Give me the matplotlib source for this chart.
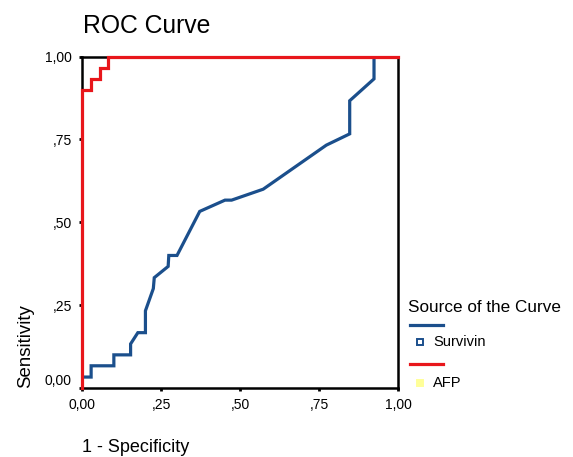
import numpy as np
import matplotlib.pyplot as plt
import matplotlib.transforms as mtransforms
from matplotlib.lines import Line2D

plt.rcParams['font.family'] = ['Liberation Sans', 'DejaVu Sans']

# ROC points (1 - specificity, sensitivity)
survivin_fpr = [0, 0, 0.028, 0.028, 0.1, 0.1, 0.153, 0.153, 0.176, 0.2, 0.2, 0.225,
                0.228, 0.272, 0.274, 0.3, 0.372, 0.452, 0.473, 0.573, 0.773, 0.847,
                0.847, 0.924, 0.924, 1.0]
survivin_tpr = [0, 0.033, 0.033, 0.067, 0.067, 0.1, 0.1, 0.133, 0.167, 0.167, 0.233, 0.3,
                0.333, 0.367, 0.4, 0.4, 0.533, 0.567, 0.567, 0.6, 0.733, 0.767,
                0.867, 0.933, 1.0, 1.0]
afp_fpr = [0, 0, 0.028, 0.028, 0.056, 0.056, 0.083, 0.083, 1.0]
afp_tpr = [0, 0.9, 0.9, 0.933, 0.933, 0.967, 0.967, 1.0, 1.0]

ticks = [0, 0.25, 0.5, 0.75, 1.0]
tick_labels = ['0,00', ',25', ',50', ',75', '1,00']
series_names = ['Survivin', 'AFP']

blue = '#1b4f8c'
red = '#e8161b'

fig = plt.figure(figsize=(5.73, 4.57), dpi=100)
ax = fig.add_axes([0.1436, 0.151, 0.551, 0.725])

ax.plot(survivin_fpr, survivin_tpr, color=blue, lw=2.3, solid_joinstyle='miter', zorder=3)
ax.plot(afp_fpr, afp_tpr, color=red, lw=2.3, solid_joinstyle='miter', zorder=4,
        clip_on=False)

ax.set_xlim(0, 1)
ax.set_ylim(0, 1)
for s in ax.spines.values():
    s.set_linewidth(1.8)
    s.set_color('black')
ax.set_xticks(ticks)
ax.set_xticklabels(tick_labels, fontsize=10)
ax.set_yticks(ticks)
ax.set_yticklabels(tick_labels, fontsize=10)
ax.tick_params(direction='out', length=2.5, width=2, pad=5, colors='black')

# SPSS puts the lowest y label a little above the axis
lab0 = ax.get_yticklabels()[0]
lab0.set_transform(lab0.get_transform() +
                   mtransforms.ScaledTranslation(0, 6 / 72, fig.dpi_scale_trans))

fig.text(0.1445, 0.928, 'ROC Curve', fontsize=17.8, ha='left', va='baseline')
fig.text(0.1425, 1 - 452 / 457, '1 - Specificity', fontsize=13, ha='left', va='baseline')
fig.text(0.030, 0.151, 'Sensitivity', fontsize=13.4, rotation=90, ha='left', va='bottom')

# legend, SPSS style
fig.text(408 / 573, 1 - 311.5 / 457, 'Source of the Curve', fontsize=12.3,
         ha='left', va='baseline')
entries = [(series_names[0], blue, blue, 'white', 325, 341.5),
           (series_names[1], red, '#ffff99', '#ffff99', 364, 383)]
for name, lc, mec, mfc, ly, my in entries:
    fig.add_artist(Line2D([410 / 573, 443 / 573], [1 - ly / 457, 1 - ly / 457],
                          color=lc, lw=2.3, transform=fig.transFigure))
    fig.add_artist(Line2D([419.5 / 573], [1 - my / 457], marker='s', ms=4.5,
                          mew=1.4, mec=mec, mfc=mfc, lw=0,
                          transform=fig.transFigure))
    fig.text(433 / 573, 1 - my / 457, name, fontsize=10.5, ha='left', va='center')

fig.savefig('out.png', dpi=100)
